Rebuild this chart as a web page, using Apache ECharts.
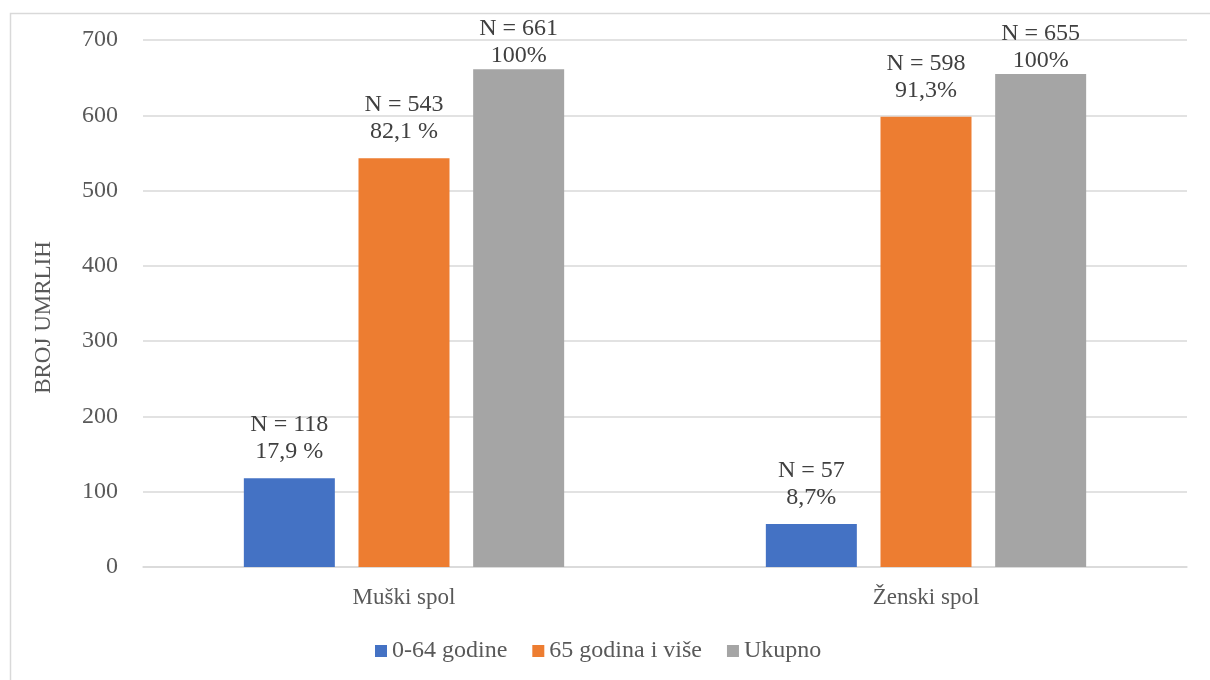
<!DOCTYPE html>
<html>
<head>
<meta charset="utf-8">
<script src="https://cdn.jsdelivr.net/npm/echarts@6/dist/echarts.min.js"></script>
<style>
html,body{margin:0;padding:0;background:#fff;}
#chart{width:1210px;height:680px;}
</style>
</head>
<body>
<div id="chart"></div>
<script>
const categories = ['Muški spol', 'Ženski spol'];
const seriesNames = ['0-64 godine', '65 godina i više', 'Ukupno'];
const young = [118, 57];
const old = [543, 598];
const total = [661, 655];
const youngPct = ['17,9 %', '8,7%'];
const oldPct = ['82,1 %', '91,3%'];
const totalPct = ['100%', '100%'];
const yTicks = [0, 100, 200, 300, 400, 500, 600, 700];

const FONT = '"Liberation Serif", serif';
const FS = 23;
const TXT = '#595959';
const colors = ['#4472C4', '#ED7D31', '#A5A5A5'];

function makeSeries(name, values, pcts, color, dist) {
  return {
    name: name,
    type: 'bar',
    data: values,
    barWidth: 91,
    barGap: '26%',
    itemStyle: { color: color },
    label: {
      show: true,
      position: 'top',
      distance: dist,
      fontFamily: FONT,
      fontSize: 24,
      color: '#404040',
      lineHeight: 27,
      formatter: p => 'N = ' + p.value + '\n' + pcts[p.dataIndex]
    }
  };
}

const chart = echarts.init(document.getElementById('chart'), null, { renderer: 'canvas' });
chart.setOption({
  animation: false,
  backgroundColor: '#fff',
  textStyle: { fontFamily: FONT },
  graphic: [{
    type: 'rect',
    left: 8, top: 11,
    shape: { width: 1220, height: 700 },
    style: { fill: 'none', stroke: '#d9d9d9', lineWidth: 1.5 },
    silent: true
  }],
  grid: { left: 143, right: 23, top: 40, bottom: 113 },
  legend: {
    data: seriesNames,
    bottom: 12,
    left: 370,
    icon: 'rect',
    itemWidth: 12,
    itemHeight: 12,
    itemGap: 25,
    textStyle: { fontFamily: FONT, fontSize: 24, color: TXT }
  },
  xAxis: {
    type: 'category',
    data: categories,
    axisLine: { show: true, lineStyle: { color: '#d9d9d9', width: 1.5 } },
    axisTick: { show: false },
    axisLabel: { fontFamily: FONT, fontSize: FS, color: TXT, margin: 19 }
  },
  yAxis: {
    type: 'value',
    min: yTicks[0],
    max: yTicks[yTicks.length - 1],
    interval: 100,
    name: 'BROJ UMRLIH',
    nameLocation: 'middle',
    nameGap: 88,
    nameTextStyle: { fontFamily: FONT, fontSize: 23, color: TXT, padding: [0, 28, 0, 0] },
    axisLine: { show: false },
    axisTick: { show: false },
    axisLabel: { fontFamily: FONT, fontSize: 24, color: TXT, margin: 25 },
    splitLine: { lineStyle: { color: '#d9d9d9', width: 1.5 } }
  },
  series: [
    makeSeries(seriesNames[0], young, youngPct, colors[0], 13),
    makeSeries(seriesNames[1], old, oldPct, colors[1], 13),
    makeSeries(seriesNames[2], total, totalPct, colors[2], 0)
  ]
});
</script>
</body>
</html>
